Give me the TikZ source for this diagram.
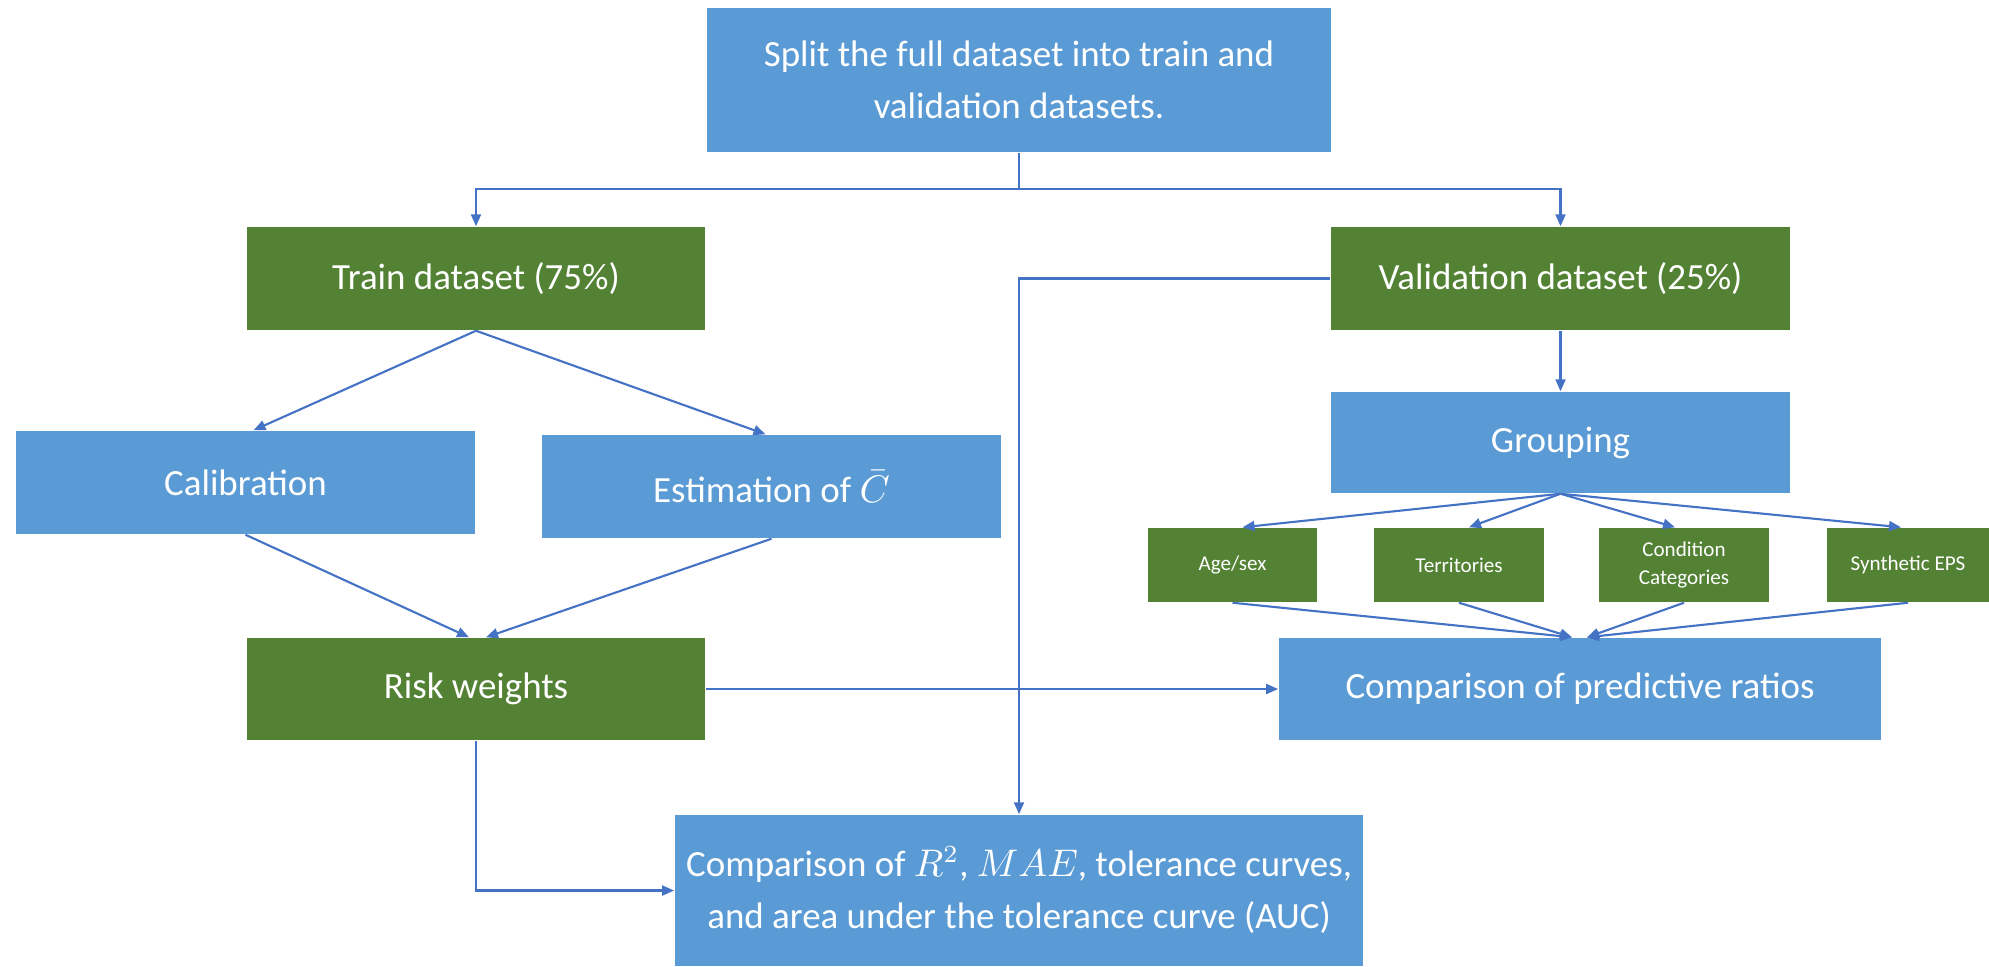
\documentclass[tikz,border=0pt]{standalone}
\usepackage{fontspec}
\setmainfont{Carlito}
\usetikzlibrary{arrows.meta}
\definecolor{boxblue}{HTML}{5B9BD5}
\definecolor{boxgreen}{HTML}{548235}
\definecolor{linkblue}{HTML}{4472C4}
\tikzset{
  basebox/.style={rectangle, inner sep=0pt, text=white, align=center,
    font=\fontsize{10.5}{14.8}\selectfont},
  bluebox/.style={basebox, fill=boxblue},
  greenbox/.style={basebox, fill=boxgreen},
  smallbox/.style={basebox, fill=boxgreen, font=\fontsize{6}{7.7}\selectfont,
    minimum width=1.69cm, minimum height=0.74cm},
  conn/.style={draw=linkblue, line width=0.6pt},
  arr/.style={conn, -{Triangle[length=0.12cm,width=0.1cm]}}
}
\begin{document}
\begin{tikzpicture}[x=0.01cm,y=-0.01cm]
\useasboundingbox (0,0) rectangle (1989,966);
% nodes
\node[bluebox, minimum width=6.24cm, minimum height=1.44cm] (split) at (1019,80)
  {Split the full dataset into train and\\validation datasets.};
\node[greenbox, minimum width=4.58cm, minimum height=1.03cm] (train) at (476,278.5)
  {Train dataset (75\%)};
\node[greenbox, minimum width=4.59cm, minimum height=1.03cm] (valid) at (1560.5,278.5)
  {Validation dataset (25\%)};
\node[bluebox, minimum width=4.59cm, minimum height=1.03cm] (calib) at (245.5,482.5)
  {Calibration};
\node[bluebox, minimum width=4.59cm, minimum height=1.03cm] (estim) at (771.5,486.5)
  {Estimation of $\bar{C}$};
\node[greenbox, minimum width=4.58cm, minimum height=1.02cm] (risk) at (476,689)
  {Risk weights};
\node[bluebox, minimum width=4.59cm, minimum height=1.01cm] (group) at (1560.5,442.5)
  {Grouping};
\node[smallbox] (age) at (1232.5,565) {Age/sex};
\node[smallbox] (terr) at (1459,565) {Territories};
\node[smallbox] (cond) at (1684,565) {Condition\\Categories};
\node[smallbox, minimum width=1.62cm] (synth) at (1908,565) {Synthetic EPS};
\node[bluebox, minimum width=6.02cm, minimum height=1.02cm] (pred) at (1580,689)
  {Comparison of predictive ratios};
\node[bluebox, minimum width=6.88cm, minimum height=1.51cm] (bottom) at (1019,890.5)
  {Comparison of $R^2$, $MAE$, tolerance curves,\\and area under the tolerance curve (AUC)};
% connectors
\coordinate (sp) at (1019,189);
\draw[conn] (split.south) -- (sp);
\draw[arr] (sp) -| (train.north);
\draw[arr] (sp) -| (valid.north);
\draw[arr] (train.south) -- ([xshift=0.08cm]calib.north);
\draw[arr] (train.south) -- ([xshift=-0.06cm]estim.north);
\draw[arr] (calib.south) -- ([xshift=-0.07cm]risk.north);
\draw[arr] (estim.south) -- ([xshift=0.1cm]risk.north);
\draw[arr] (risk.east) -- (pred.west);
\draw[arr] (risk.south) |- (bottom.west);
\draw[arr] (valid.west) -| (bottom.north);
\draw[arr] (valid.south) -- (group.north);
\draw[arr] (group.south) -- ([xshift=0.1cm]age.north);
\draw[arr] (group.south) -- ([xshift=0.1cm]terr.north);
\draw[arr] (group.south) -- ([xshift=-0.09cm]cond.north);
\draw[arr] (group.south) -- ([xshift=-0.07cm]synth.north);
\draw[arr] (age.south) -- ([xshift=-0.08cm]pred.north);
\draw[arr] (terr.south) -- ([xshift=-0.08cm]pred.north);
\draw[arr] (cond.south) -- ([xshift=0.07cm]pred.north);
\draw[arr] (synth.south) -- ([xshift=0.07cm]pred.north);
\end{tikzpicture}
\end{document}
